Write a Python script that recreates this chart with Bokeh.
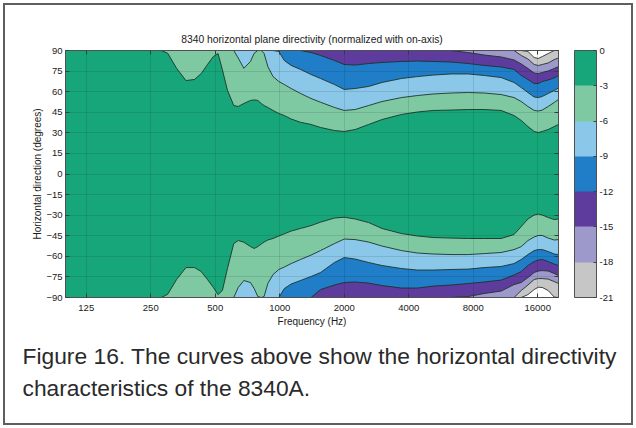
from bokeh.plotting import figure
from bokeh.models import (FixedTicker, PrintfTickFormatter, ColorBar, LinearColorMapper,
                          Title, ColumnDataSource, AllLabels, LinearAxis, LogAxis)
from bokeh.embed import file_html
from bokeh.resources import INLINE

# ---------------- data ----------------
freq_hz = [100, 125, 160, 200, 250, 280, 300, 330, 365, 400, 430, 460, 490, 515, 540, 570,
           610, 640, 680, 730, 760, 790, 820, 845, 880, 930, 990, 1050, 1130, 1250, 1400,
           1550, 1800, 2000, 2250, 2600, 3000, 3700, 4400, 5200, 6300, 7600, 9000, 10800,
           12400, 13400, 14400, 15400, 16100, 16800, 17900, 19100, 20000]

levels_db = [-3, -6, -9, -12, -15, -18, -21]
colorbar_ticks = [-21, -18, -15, -12, -9, -6, -3, 0]

# angle (deg) of each contour level on the +90 side
upper_3db = [90, 90, 90, 90, 90, 90, 88.0, 77.0, 68.1, 68.9, 73.2, 79.8, 85.6, 87.8, 75.9, 61.0,
             49.9, 49.2, 51.4, 53.6, 54.0, 53.6, 51.4, 49.9, 48.5, 46.3, 44.1, 42.6, 40.1, 37.7, 36.1,
             33.9, 31.7, 31.0, 32.4, 36.1, 39.7, 43.4, 45.2, 46.3, 46.6, 47.0, 47.0, 46.3,
             42.6, 39.0, 34.6, 31.0, 30.2, 31.0, 32.4, 34.6, 36.1]
upper_6db = [90, 90, 90, 90, 90, 90, 90, 90, 90, 90, 90, 90, 90, 90, 90, 90,
             90, 84.5, 77.0, 82.0, 88.0, 90, 90, 87.8, 78.3, 71.0, 67.4, 65.2, 62.3, 58.7, 55.0,
             52.3, 48.5, 46.3, 47.0, 49.9, 52.8, 55.7, 57.2, 58.3, 59.0, 59.4, 59.0, 57.9,
             55.7, 52.8, 49.2, 46.3, 45.9, 46.6, 49.2, 52.1, 54.3]
upper_9db = [90, 90, 90, 90, 90, 90, 90, 90, 90, 90, 90, 90, 90, 90, 90, 90,
             90, 90, 90, 90, 90, 90, 90, 90, 90, 90, 89.3, 82.7, 79.1, 76.2, 72.5,
             69.6, 65.2, 61.6, 62.3, 63.8, 66.7, 69.6, 71.0, 72.1, 72.9, 72.9, 71.8, 70.3,
             66.7, 63.0, 59.4, 56.1, 55.7, 56.5, 58.7, 60.8, 62.7]
upper_12db = [90, 90, 90, 90, 90, 90, 90, 90, 90, 90, 90, 90, 90, 90, 90, 90,
              90, 90, 90, 90, 90, 90, 90, 90, 90, 90, 90, 90, 90, 90, 88.5,
              86.4, 82.7, 79.8, 79.4, 80.5, 81.3, 82.0, 82.3, 82.0, 81.6, 80.5, 79.1, 78.0,
              76.2, 71.8, 68.9, 65.9, 65.9, 67.4, 68.5, 70.0, 71.8]
upper_15db = [90, 90, 90, 90, 90, 90, 90, 90, 90, 90, 90, 90, 90, 90, 90, 90,
              90, 90, 90, 90, 90, 90, 90, 90, 90, 90, 90, 90, 90, 90, 90,
              90, 90, 90, 90, 90, 90, 90, 90, 90, 90, 88.5, 86.7, 85.3,
              83.1, 80.2, 76.9, 73.6, 73.2, 74.0, 75.1, 76.9, 78.3]
upper_18db = [90, 90, 90, 90, 90, 90, 90, 90, 90, 90, 90, 90, 90, 90, 90, 90,
              90, 90, 90, 90, 90, 90, 90, 90, 90, 90, 90, 90, 90, 90, 90,
              90, 90, 90, 90, 90, 90, 90, 90, 90, 90, 90, 90, 90,
              90, 86.4, 83.8, 79.8, 79.1, 79.8, 80.9, 83.4, 84.5]
upper_21db = [90, 90, 90, 90, 90, 90, 90, 90, 90, 90, 90, 90, 90, 90, 90, 90,
              90, 90, 90, 90, 90, 90, 90, 90, 90, 90, 90, 90, 90, 90, 90,
              90, 90, 90, 90, 90, 90, 90, 90, 90, 90, 90, 90, 90,
              90, 90, 89.3, 84.9, 84.2, 85.6, 87.8, 90, 90]

# angle (deg) of each contour level on the -90 side
lower_3db = [-90, -90, -90, -90, -90, -90, -87.6, -76.9, -68.2, -68.2, -71.1, -76.9, -82.7, -87.9, -84.9, -68.9,
             -50.7, -48.5, -49.7, -52.9, -54.3, -52.9, -51.0, -49.6, -48.1, -47.0, -45.2, -43.6, -41.6, -39.7, -37.6,
             -35.1, -32.1, -31.5, -32.8, -35.4, -39.7, -43.4, -45.2, -46.3, -46.7, -47.0, -47.0, -47.0,
             -44.1, -38.3, -32.8, -29.9, -29.2, -29.9, -31.7, -33.2, -32.8]
lower_6db = [-90, -90, -90, -90, -90, -90, -90, -90, -90, -90, -90, -90, -90, -90, -90, -90,
             -90, -82.7, -77.6, -79.1, -83.5, -89.3, -90, -89.3, -79.8, -73.3, -69.6, -67.8, -65.3, -62.3, -59.1,
             -55.8, -50.7, -47.4, -47.8, -49.6, -52.5, -55.8, -57.6, -58.3, -58.7, -58.7, -58.0, -57.2,
             -55.1, -52.9, -48.5, -45.9, -44.8, -44.8, -46.7, -48.1, -47.8]
lower_9db = [-90, -90, -90, -90, -90, -90, -90, -90, -90, -90, -90, -90, -90, -90, -90, -90,
             -90, -90, -90, -90, -90, -90, -90, -90, -90, -90, -90, -83.5, -80.2, -77.6, -74.7,
             -71.8, -64.5, -60.9, -62.0, -64.5, -66.7, -68.9, -70.0, -70.0, -69.6, -69.3, -68.2, -67.4,
             -65.3, -62.3, -58.7, -55.8, -55.1, -55.1, -56.5, -58.3, -58.7]
lower_12db = [-90, -90, -90, -90, -90, -90, -90, -90, -90, -90, -90, -90, -90, -90, -90, -90,
              -90, -90, -90, -90, -90, -90, -90, -90, -90, -90, -90, -90, -90, -90, -90,
              -84.2, -80.9, -79.1, -78.7, -79.5, -81.3, -83.1, -83.1, -81.7, -80.9, -79.8, -78.7, -77.3,
              -73.6, -71.1, -66.7, -63.8, -62.7, -62.3, -63.8, -65.6, -66.7]
lower_15db = [-90, -90, -90, -90, -90, -90, -90, -90, -90, -90, -90, -90, -90, -90, -90, -90,
              -90, -90, -90, -90, -90, -90, -90, -90, -90, -90, -90, -90, -90, -90, -90,
              -90, -90, -90, -90, -90, -90, -90, -90, -90, -90, -89.3, -87.1, -85.3,
              -80.6, -79.1, -75.5, -71.8, -70.7, -70.4, -70.7, -72.5, -74.0]
lower_18db = [-90, -90, -90, -90, -90, -90, -90, -90, -90, -90, -90, -90, -90, -90, -90, -90,
              -90, -90, -90, -90, -90, -90, -90, -90, -90, -90, -90, -90, -90, -90, -90,
              -90, -90, -90, -90, -90, -90, -90, -90, -90, -90, -90, -90, -90,
              -90, -84.9, -80.9, -76.9, -76.2, -76.2, -76.6, -78.4, -79.8]
lower_21db = [-90, -90, -90, -90, -90, -90, -90, -90, -90, -90, -90, -90, -90, -90, -90, -90,
              -90, -90, -90, -90, -90, -90, -90, -90, -90, -90, -90, -90, -90, -90, -90,
              -90, -90, -90, -90, -90, -90, -90, -90, -90, -90, -90, -90, -90,
              -90, -90, -87.9, -84.2, -82.5, -82.7, -84.9, -89.7, -90]

freq_ticks = [125, 250, 500, 1000, 2000, 4000, 8000, 16000]
angle_ticks = [-90, -75, -60, -45, -30, -15, 0, 15, 30, 45, 60, 75, 90]

title_text = "8340 horizontal plane directivity (normalized with on-axis)"
caption_text = ("Figure 16. The curves above show the horizontal directivity\n"
                "characteristics of the 8340A.")

# ---------------- style ----------------
band_colors = ["#17A679", "#7FC9A2", "#8AC7E8", "#1F7EC7", "#5D3C9D", "#9D99CB", "#C6C6C6", "#FFFFFF"]
line_color = "#1F3329"
FONT = "Liberation Sans"

upper = [upper_3db, upper_6db, upper_9db, upper_12db, upper_15db, upper_18db, upper_21db]
lower = [lower_3db, lower_6db, lower_9db, lower_12db, lower_15db, lower_18db, lower_21db]


def edge_masked(vals, edge):
    out = []
    n = len(vals)
    for i, v in enumerate(vals):
        if v == edge:
            l = vals[i - 1] if i > 0 else edge
            r = vals[i + 1] if i < n - 1 else edge
            out.append(float("nan") if (l == edge and r == edge) else v)
        else:
            out.append(v)
    return out


p = figure(width=636, height=428, x_axis_type="log", x_range=(100, 20000), y_range=(-90, 90),
           output_backend="svg", toolbar_location=None,
           min_border_left=65, min_border_right=78, min_border_top=50, min_border_bottom=131)

p.background_fill_color = band_colors[0]
p.border_fill_color = None
p.outline_line_color = "#505050"
p.styles = {"outline": "2px solid #5f5f5f", "outline-offset": "-5px", "background-color": "white"}

for k in range(len(levels_db)):
    col = band_colors[k + 1]
    src_u = ColumnDataSource(dict(x=freq_hz, y=upper[k]))
    src_l = ColumnDataSource(dict(x=freq_hz, y=lower[k]))
    p.varea(x="x", y1="y", y2=90, source=src_u, fill_color=col, fill_alpha=1)
    p.varea(x="x", y1=-90, y2="y", source=src_l, fill_color=col, fill_alpha=1)

for k in range(len(levels_db)):
    p.line(freq_hz, edge_masked(upper[k], 90), line_color=line_color, line_width=0.9)
    p.line(freq_hz, edge_masked(lower[k], -90), line_color=line_color, line_width=0.9)

# axes
p.xaxis.ticker = FixedTicker(ticks=freq_ticks)
p.xaxis.formatter = PrintfTickFormatter(format="%d")
p.yaxis.ticker = FixedTicker(ticks=angle_ticks)
for ax in (p.xaxis[0], p.yaxis[0]):
    ax.major_tick_in = 4
    ax.major_tick_out = 0
    ax.minor_tick_line_color = None
    ax.axis_line_color = "#505050"
    ax.major_tick_line_color = "#404040"
    ax.major_label_text_font = FONT
    ax.major_label_text_font_size = "9.5px"
    ax.major_label_text_color = "#1a1a1a"
    ax.axis_label_text_font = FONT
    ax.axis_label_text_font_size = "10px"
    ax.axis_label_text_font_style = "normal"
    ax.axis_label_text_color = "#1a1a1a"
p.xaxis.axis_label = "Frequency (Hz)"
p.yaxis.axis_label = "Horizontal direction (degrees)"
p.xaxis.major_label_standoff = 7
p.xaxis.axis_label_standoff = 2
p.yaxis.major_label_standoff = 3
p.yaxis.axis_label_standoff = 0

# box ticks on the right and top edges (inward, no labels)
right_ax = LinearAxis(ticker=FixedTicker(ticks=angle_ticks), major_tick_in=4, major_tick_out=0,
                      minor_tick_line_color=None, axis_line_color="#505050",
                      major_tick_line_color="#404040", major_label_text_color=None,
                      major_label_standoff=0)
p.add_layout(right_ax, "right")
top_ax = LogAxis(ticker=FixedTicker(ticks=freq_ticks), major_tick_in=4, major_tick_out=0,
                 minor_tick_line_color=None, axis_line_color="#505050",
                 major_tick_line_color="#404040", major_label_text_color=None,
                 major_label_standoff=0)
p.add_layout(top_ax, "above")

p.xgrid.ticker = FixedTicker(ticks=freq_ticks)
p.ygrid.ticker = FixedTicker(ticks=angle_ticks)
for g in (p.xgrid[0], p.ygrid[0]):
    g.grid_line_color = "#000000"
    g.grid_line_alpha = 0.10
    g.level = "overlay"

# title
p.title.text = title_text
p.title.align = "center"
p.title.text_font = FONT
p.title.text_font_size = "10.3px"
p.title.text_font_style = "normal"
p.title.text_color = "#1a1a1a"
p.title.standoff = 11

# colour bar
cb_palette = list(reversed(band_colors[:7]))
mapper = LinearColorMapper(palette=cb_palette, low=levels_db[-1], high=0)
cb = ColorBar(color_mapper=mapper, ticker=FixedTicker(ticks=colorbar_ticks),
              formatter=PrintfTickFormatter(format="%d"), major_label_policy=AllLabels(),
              width=22, height=247, margin=0, padding=0, location=(16, 0),
              bar_line_color="#505050", major_tick_line_color="#404040",
              major_tick_in=3, major_tick_out=0,
              major_label_text_font=FONT, major_label_text_font_size="9.5px",
              major_label_text_color="#1a1a1a", label_standoff=3,
              background_fill_alpha=0, border_line_color=None)
p.add_layout(cb, "right")

# caption (two text lines under the plot)
cap = Title(text=caption_text, align="left", offset=-43, standoff=23,
            text_font=FONT, text_font_size="22.8px", text_font_style="normal",
            text_line_height=1.24, text_color="#2a2a2a")
p.add_layout(cap, "below")

open("out.html", "w").write(file_html(p, INLINE))
